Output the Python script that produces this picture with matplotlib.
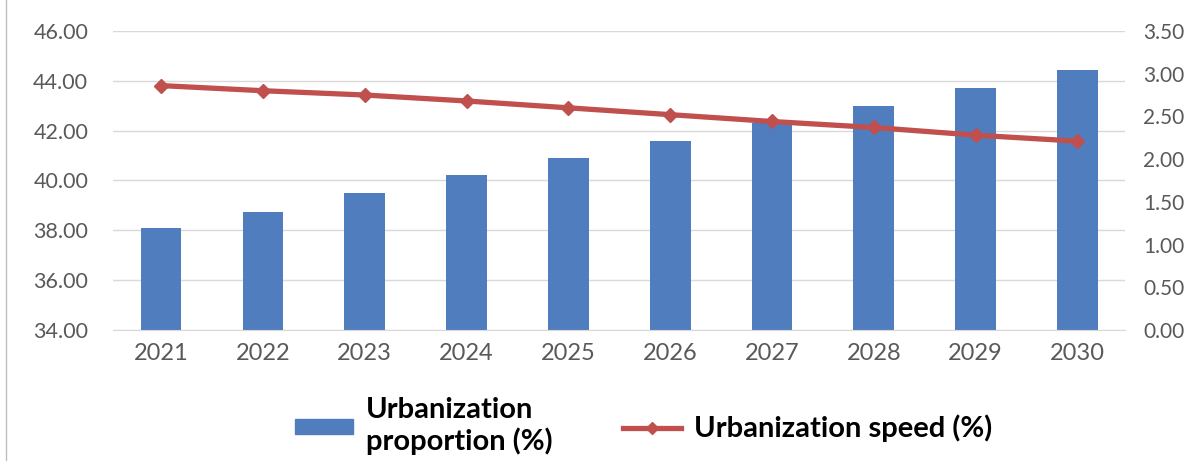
import matplotlib.pyplot as plt
import numpy as np
from matplotlib.lines import Line2D

years = ["2021", "2022", "2023", "2024", "2025", "2026", "2027", "2028", "2029", "2030"]
proportion = [38.10, 38.75, 39.50, 40.20, 40.90, 41.60, 42.30, 43.00, 43.70, 44.45]
speed = [2.86, 2.80, 2.75, 2.68, 2.60, 2.52, 2.44, 2.37, 2.28, 2.21]

left_ticks = [34, 36, 38, 40, 42, 44, 46]
right_ticks = [0, 0.5, 1.0, 1.5, 2.0, 2.5, 3.0, 3.5]

plt.rcParams["font.family"] = ["Lato", "DejaVu Sans"]
bar_color = "#4F7DBD"
line_color = "#C0504D"
tick_color = "#595959"

fig = plt.figure(figsize=(11.92, 4.61), dpi=100)
ax = fig.add_axes([0.095, 0.284, 0.849, 0.649])
x = np.arange(len(years))

# barras no eixo da esquerda
ax.bar(x, [p - 34 for p in proportion], bottom=34, width=0.4, color=bar_color, zorder=2)
ax.set_ylim(34, 46)
ax.set_yticks(left_ticks)
ax.set_yticklabels([f"{t:.2f}" for t in left_ticks])
ax.set_xlim(-0.47, len(years) - 0.53)
ax.set_xticks(x)
ax.set_xticklabels(years)
ax.grid(axis="y", color="#d9d9d9", linewidth=1, zorder=0)
for s in ax.spines.values():
    s.set_visible(False)
ax.spines["bottom"].set_visible(True)
ax.spines["bottom"].set_color("#d9d9d9")
ax.tick_params(axis="x", length=0, labelsize=17, colors=tick_color, pad=9)
ax.tick_params(axis="y", length=0, labelsize=15.5, colors=tick_color, pad=18)

# linha no eixo da direita
ax2 = ax.twinx()
ax2.plot(x, speed, color=line_color, linewidth=3.8, marker="D", markersize=7, zorder=3)
ax2.set_ylim(0, 3.5)
ax2.set_yticks(right_ticks)
ax2.set_yticklabels([f"{t:.2f}" for t in right_ticks])
for s in ax2.spines.values():
    s.set_visible(False)
ax2.tick_params(length=0, labelsize=15, colors=tick_color, pad=13)

handles = [
    plt.Rectangle((0, 0), 1, 1, color=bar_color),
    Line2D([0], [0], color=line_color, linewidth=3.8, marker="D", markersize=6),
]
labels = ["Urbanization\nproportion (%)", "Urbanization speed (%)"]
fig.legend(handles, labels, loc="center", bbox_to_anchor=(0.54, 0.075), ncol=2, frameon=False,
           prop={"size": 21, "weight": "bold"}, handlelength=2.0, handleheight=0.42,
           columnspacing=2.4, handletextpad=0.45, labelspacing=0.2)

fig.add_artist(Line2D([0.005, 0.005], [0.0, 1.0], color="#bfbfbf", linewidth=1))

fig.savefig("out.png", dpi=100)
